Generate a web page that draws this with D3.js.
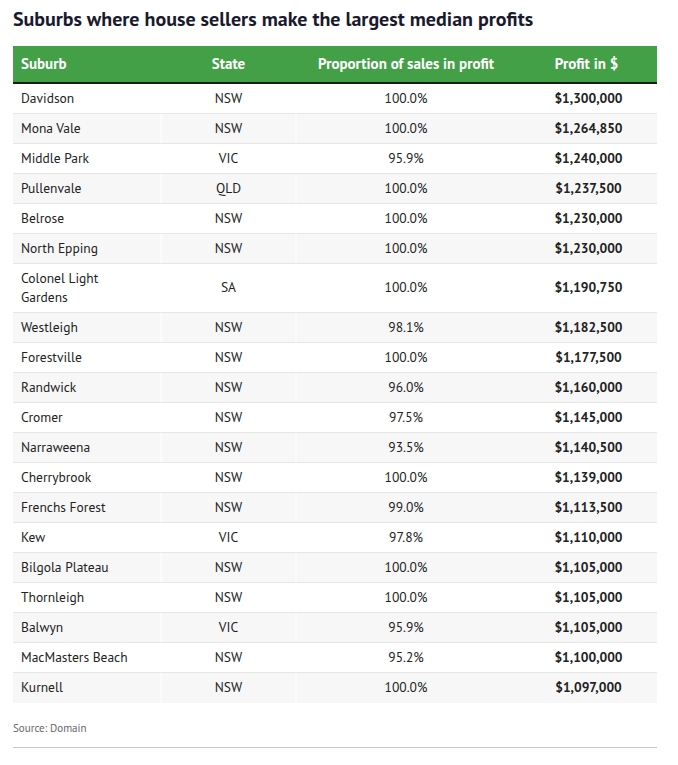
<!DOCTYPE html>
<html>
<head>
<meta charset="utf-8">
<script src="https://cdn.jsdelivr.net/npm/d3@7"></script>
<style>
  html, body { margin: 0; padding: 0; background: #fff; }
  svg { display: block; }
  text { font-family: "PT Sans", Lato, "Open Sans", sans-serif; }
</style>
</head>
<body>
<svg id="chart" width="678" height="765"></svg>
<script>
const title = "Suburbs where house sellers make the largest median profits";
const headers = ["Suburb", "State", "Proportion of sales in profit", "Profit in $"];
const suburbs = ["Davidson","Mona Vale","Middle Park","Pullenvale","Belrose","North Epping","Colonel Light Gardens","Westleigh","Forestville","Randwick","Cromer","Narraweena","Cherrybrook","Frenchs Forest","Kew","Bilgola Plateau","Thornleigh","Balwyn","MacMasters Beach","Kurnell"];
const states = ["NSW","NSW","VIC","QLD","NSW","NSW","SA","NSW","NSW","NSW","NSW","NSW","NSW","NSW","VIC","NSW","NSW","VIC","NSW","NSW"];
const proportions = [100.0,100.0,95.9,100.0,100.0,100.0,100.0,98.1,100.0,96.0,97.5,93.5,100.0,99.0,97.8,100.0,100.0,95.9,95.2,100.0];
const profits = [1300000,1264850,1240000,1237500,1230000,1230000,1190750,1182500,1177500,1160000,1145000,1140500,1139000,1113500,1110000,1105000,1105000,1105000,1100000,1097000];
const source = "Source: Domain";

const svg = d3.select("#chart");
const left = 13, right = 657;
const colEdges = [13, 161, 296, 516, 657];
const headerTop = 46, headerH = 36, borderH = 2;
const rowH = 30, lineH = 19, extraPerLine = 19;
const fmtPct = d3.format(".1f");
const fmtMoney = d3.format("$,.0f");

svg.append("text")
  .attr("x", left).attr("y", 26)
  .attr("font-size", 20).attr("font-weight", 700)
  .attr("fill", "#1a1a2e")
  .text(title)
  .each(function(){
    const w = this.getComputedTextLength();
    if (Math.abs(w - 519) > 4) d3.select(this).attr("textLength", 519).attr("lengthAdjust", "spacingAndGlyphs");
  });

svg.append("rect").attr("x", left).attr("y", headerTop).attr("width", right-left).attr("height", headerH).attr("fill", "#43a047");
svg.append("rect").attr("x", left).attr("y", headerTop+headerH).attr("width", right-left).attr("height", borderH).attr("fill", "#1b1b1b");

const anchors = ["start","middle","middle","middle"];
function colX(i){ return i===0 ? colEdges[0]+8 : (colEdges[i]+colEdges[i+1])/2; }

svg.selectAll("text.hdr").data(headers).join("text")
  .attr("class","hdr")
  .attr("x",(d,i)=>colX(i)).attr("y", headerTop + headerH/2 + 5)
  .attr("text-anchor",(d,i)=>anchors[i])
  .attr("font-size",15).attr("font-weight",700).attr("fill","#fff")
  .text(d=>d);

const rows = suburbs.map((s,i)=>({suburb:s,state:states[i],prop:proportions[i],profit:profits[i],i}));
const maxSuburbW = colEdges[1]-colEdges[0]-16;

const meas = svg.append("text").attr("font-size",13.5).attr("visibility","hidden");
rows.forEach(r=>{
  const words = r.suburb.split(" ");
  const lines = []; let cur = "";
  words.forEach(w=>{
    const t = cur ? cur+" "+w : w;
    meas.text(t);
    if (meas.node().getComputedTextLength() > maxSuburbW - 8 && cur) { lines.push(cur); cur = w; }
    else cur = t;
  });
  lines.push(cur);
  r.lines = lines;
  r.h = rowH + (lines.length-1)*extraPerLine;
});
meas.remove();
let y0 = headerTop + headerH + borderH;
rows.forEach(r=>{ r.y = y0; y0 += r.h; });

const g = svg.append("g");
const rg = g.selectAll("g.row").data(rows).join("g").attr("class","row")
  .attr("transform", d=>`translate(0,${d.y})`);

rg.append("rect").attr("x",left).attr("y",0).attr("width",right-left).attr("height",d=>d.h)
  .attr("fill", d=> d.i%2===1 ? "#f7f7f7" : "#ffffff");
rg.each(function(d){
  const sel = d3.select(this);
  colEdges.slice(1,3).forEach(x=>{
    sel.append("line").attr("x1",x).attr("x2",x).attr("y1",0).attr("y2",d.h).attr("stroke","#fff").attr("stroke-width",1);
  });
});
rg.filter(d=>d.i < rows.length-1).append("line")
  .attr("x1",left).attr("x2",right).attr("y1",d=>d.h-0.5).attr("y2",d=>d.h-0.5)
  .attr("stroke","#e6e6e6").attr("stroke-width",1);

rg.each(function(d){
  const sel = d3.select(this);
  const n = d.lines.length;
  const cy = d.h/2;
  const t = sel.append("text").attr("x",colX(0)).attr("font-size",13.5).attr("fill","#222");
  d.lines.forEach((ln,k)=>{
    t.append("tspan").attr("x",colX(0)).attr("y", cy + 3.5 + (k-(n-1)/2)*lineH).text(ln);
  });
  sel.append("text").attr("x",colX(1)).attr("y",cy+3.5).attr("text-anchor","middle").attr("font-size",13.5).attr("fill","#222").text(d.state);
  sel.append("text").attr("x",colX(2)).attr("y",cy+3.5).attr("text-anchor","middle").attr("font-size",13.5).attr("fill","#222").text(fmtPct(d.prop)+"%");
  sel.append("text").attr("x",colX(3)+2).attr("y",cy+3.5).attr("text-anchor","middle").attr("font-size",13.5).attr("font-weight",700).attr("fill","#222").text(fmtMoney(d.profit));
});

svg.append("text").attr("x",left).attr("y",732).attr("font-size",11).attr("fill","#666").text(source);
svg.append("line").attr("x1",left).attr("x2",right).attr("y1",747.5).attr("y2",747.5).attr("stroke","#c8c8cc").attr("stroke-width",1);
</script>
</body>
</html>
